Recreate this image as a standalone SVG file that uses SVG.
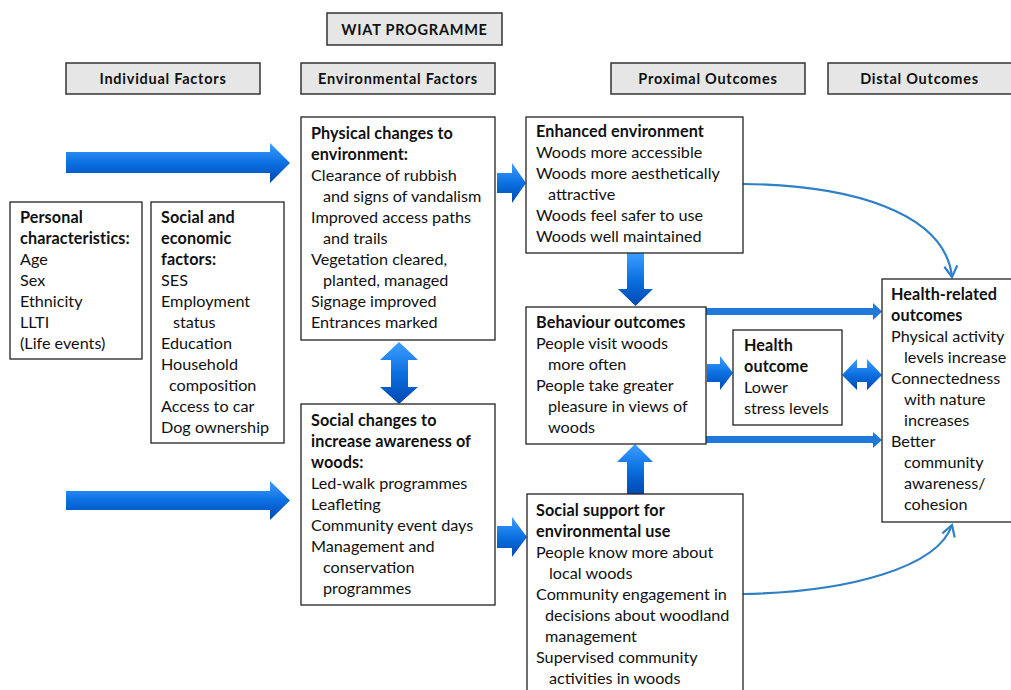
<svg xmlns="http://www.w3.org/2000/svg" width="1011" height="690" viewBox="0 0 1011 690">
<defs>
<linearGradient id="g" x1="0" y1="0" x2="0" y2="1">
<stop offset="0" stop-color="#3d9eff"/>
<stop offset="0.5" stop-color="#0c70e2"/>
<stop offset="1" stop-color="#0048b0"/>
</linearGradient>
<marker id="open" markerUnits="userSpaceOnUse" markerWidth="20" markerHeight="20" refX="0" refY="0" viewBox="-10 -10 20 20" orient="auto" overflow="visible">
<path d="M-11,-6.5 L0,0 L-11,6.5" fill="none" stroke="#2f80c6" stroke-width="2.2"/>
</marker>
<style>
.hdr{fill:#e6e6e6;stroke:#333;stroke-width:1.5}
.box{fill:#fff;stroke:#222;stroke-width:1.3}
text{font-family:Lato,"Liberation Sans",sans-serif;font-size:16.2px;fill:#111}
.b{font-weight:bold;letter-spacing:0.1px}
.h{font-weight:bold;font-size:14.5px;letter-spacing:0.75px;text-anchor:middle}
.ar{fill:url(#g)}
.thin{fill:#1f78da}
.curve{fill:none;stroke:#2f80c6;stroke-width:2.2;marker-end:url(#open)}
</style>
</defs>

<g id="hdr-wiat"><rect class="hdr" x="327" y="13" width="175" height="32"/><text class="h" x="414.5" y="35">WIAT PROGRAMME</text></g>
<g id="hdr-individual"><rect class="hdr" x="66" y="63" width="194" height="31"/><text class="h" x="163" y="84">Individual Factors</text></g>
<g id="hdr-environmental"><rect class="hdr" x="301" y="63" width="194" height="31"/><text class="h" x="398" y="84">Environmental Factors</text></g>
<g id="hdr-proximal"><rect class="hdr" x="611" y="63" width="194" height="31"/><text class="h" x="708" y="84">Proximal Outcomes</text></g>
<g id="hdr-distal"><rect class="hdr" x="828" y="63" width="190" height="31"/><text class="h" x="919.5" y="84">Distal Outcomes</text></g>

<g id="connectors">
<polygon class="ar" points="66,152 270,152 270,143 290,163 270,183 270,173 66,173"/>
<polygon class="ar" points="66,491 270,491 270,481 290,500.5 270,520 270,510 66,510"/>
<polygon class="ar" points="497,173 512,173 512,163 526,183 512,203 512,193 497,193"/>
<polygon class="ar" points="497,526 512,526 512,517 527,537 512,557 512,548 497,548"/>
<polygon class="ar" points="391,360 380,360 399,342 418,360 408,360 408,387 418,387 399,404 380,387 391,387"/>
<polygon class="ar" points="627,253 644,253 644,289 653,289 635.5,306 618,289 627,289"/>
<polygon class="ar" points="627,494 627,462 617,462 635,444 653,462 644,462 644,494"/>
<polygon class="ar" points="707,364 720,364 720,356 733,373 720,390 720,382 707,382"/>
<polygon class="ar" points="842,375 857,359 857,368 867,368 867,359 882,375 867,390 867,382 857,382 857,390"/>
<polygon class="thin" points="706,308 873,308 873,303 882,311.5 873,320 873,315 706,315"/>
<polygon class="thin" points="706,436 873,436 873,432 882,440 873,448 873,443 706,443"/>
<path class="curve" d="M743,184 C850,185 945,212 952,277"/>
<path class="curve" d="M743,594 C850,592 938,567 952,525"/>
</g>

<g id="personal">
<rect class="box" x="10" y="202" width="132" height="157"/>
<text class="b" x="20" y="223">Personal</text>
<text class="b" x="20" y="244">characteristics:</text>
<text x="20" y="265">Age</text>
<text x="20" y="286">Sex</text>
<text x="20" y="307">Ethnicity</text>
<text x="20" y="328">LLTI</text>
<text x="20" y="349">(Life events)</text>
</g>

<g id="socioeconomic">
<rect class="box" x="151" y="202" width="133" height="241"/>
<text class="b" x="161" y="223">Social and</text>
<text class="b" x="161" y="244">economic</text>
<text class="b" x="161" y="265">factors:</text>
<text x="161" y="286">SES</text>
<text x="161" y="307">Employment</text>
<text x="173" y="328">status</text>
<text x="161" y="349">Education</text>
<text x="161" y="370">Household</text>
<text x="169" y="391">composition</text>
<text x="161" y="412">Access to car</text>
<text x="161" y="433">Dog ownership</text>
</g>

<g id="physical">
<rect class="box" x="301" y="117" width="194" height="223"/>
<text class="b" x="311" y="139">Physical changes to</text>
<text class="b" x="311" y="160">environment:</text>
<text x="311" y="181">Clearance of rubbish</text>
<text x="323" y="202">and signs of vandalism</text>
<text x="311" y="223">Improved access paths</text>
<text x="323" y="244">and trails</text>
<text x="311" y="265">Vegetation cleared,</text>
<text x="323" y="286">planted, managed</text>
<text x="311" y="307">Signage improved</text>
<text x="311" y="328">Entrances marked</text>
</g>

<g id="social-changes">
<rect class="box" x="301" y="404" width="194" height="201"/>
<text class="b" x="311" y="426">Social changes to</text>
<text class="b" x="311" y="447">increase awareness of</text>
<text class="b" x="311" y="468">woods:</text>
<text x="311" y="489">Led-walk programmes</text>
<text x="311" y="510">Leafleting</text>
<text x="311" y="531">Community event days</text>
<text x="311" y="552">Management and</text>
<text x="323" y="573">conservation</text>
<text x="323" y="594">programmes</text>
</g>

<g id="enhanced">
<rect class="box" x="526" y="117" width="217" height="136"/>
<text class="b" x="536" y="137">Enhanced environment</text>
<text x="536" y="158">Woods more accessible</text>
<text x="536" y="179">Woods more aesthetically</text>
<text x="548" y="200">attractive</text>
<text x="536" y="221">Woods feel safer to use</text>
<text x="536" y="242">Woods well  maintained</text>
</g>

<g id="behaviour">
<rect class="box" x="526" y="307" width="180" height="137"/>
<text class="b" x="536" y="328">Behaviour outcomes</text>
<text x="536" y="349">People visit woods</text>
<text x="548" y="370">more often</text>
<text x="536" y="391">People take greater</text>
<text x="548" y="412">pleasure in views of</text>
<text x="548" y="433">woods</text>
</g>

<g id="health">
<rect class="box" x="733" y="330" width="109" height="95"/>
<text class="b" x="744" y="351">Health</text>
<text class="b" x="744" y="372">outcome</text>
<text x="744" y="393">Lower</text>
<text x="744" y="414">stress levels</text>
</g>

<g id="health-related">
<rect class="box" x="882" y="279" width="135" height="243"/>
<text class="b" x="891" y="300">Health-related</text>
<text class="b" x="891" y="321">outcomes</text>
<text x="891" y="342">Physical activity</text>
<text x="904" y="363">levels increase</text>
<text x="891" y="384">Connectedness</text>
<text x="904" y="405">with nature</text>
<text x="904" y="426">increases</text>
<text x="891" y="447">Better</text>
<text x="904" y="468">community</text>
<text x="904" y="489">awareness/</text>
<text x="904" y="510">cohesion</text>
</g>

<g id="social-support">
<rect class="box" x="527" y="494" width="216" height="210"/>
<text class="b" x="536" y="516">Social support for</text>
<text class="b" x="536" y="537">environmental use</text>
<text x="536" y="558">People know more about</text>
<text x="549" y="579">local woods</text>
<text x="536" y="600">Community engagement in</text>
<text x="545" y="621">decisions about woodland</text>
<text x="545" y="642">management</text>
<text x="536" y="663">Supervised community</text>
<text x="549" y="684">activities in woods</text>
</g>
</svg>
